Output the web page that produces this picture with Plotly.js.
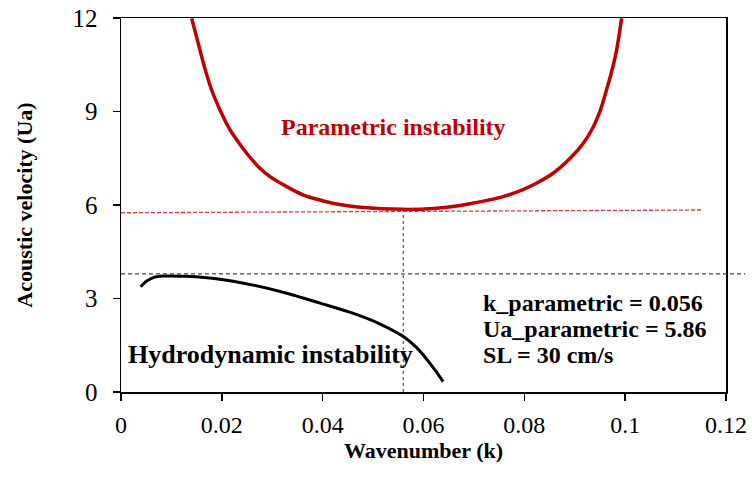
<!DOCTYPE html>
<html>
<head>
<meta charset="utf-8">
<script src="https://cdn.plot.ly/plotly-3.0.1.min.js"></script>
<style>html,body{margin:0;padding:0;background:#fff;}#chart{width:752px;height:480px;}</style>
</head>
<body>
<div id="chart"></div>
<script>
// Parametric instability boundary (k, Ua)
const paramK  = [0.01402, 0.01567, 0.01653, 0.01798, 0.01964, 0.02149, 0.02294, 0.02493, 0.02724, 0.02955, 0.03286, 0.03616, 0.03947, 0.04278, 0.04740, 0.05600, 0.06200, 0.06660, 0.06920, 0.07580, 0.07950, 0.08240, 0.08570, 0.08910, 0.09170, 0.09370, 0.09510, 0.09630, 0.09740, 0.09830, 0.09930];
const paramUa = [11.99, 10.97, 10.44, 9.69, 9.05, 8.45, 8.09, 7.66, 7.23, 6.91, 6.59, 6.32, 6.16, 6.03, 5.93, 5.86, 5.89, 5.97, 6.04, 6.27, 6.48, 6.70, 7.02, 7.50, 7.98, 8.51, 9.05, 9.69, 10.33, 10.97, 11.99];
// Hydrodynamic instability boundary
const hydroK  = [0.0039, 0.0045, 0.0051, 0.0064, 0.0084, 0.0130, 0.0196, 0.0262, 0.0329, 0.0395, 0.0461, 0.0514, 0.0560, 0.0586, 0.0606, 0.0623, 0.0639];
const hydroUa = [3.38, 3.48, 3.56, 3.67, 3.72, 3.71, 3.62, 3.43, 3.17, 2.85, 2.52, 2.18, 1.78, 1.43, 1.06, 0.70, 0.33];
// Reference lines
const redRefK  = [0.0, 0.1152];
const redRefUa = [5.75, 5.84];
const blackRefUa = [3.79];
const kParam = [0.056];
const uaParam = [5.86];
const infoLines = ['k_parametric = 0.056', 'Ua_parametric = 5.86', 'SL = 30 cm/s'];
const infoUa = [2.86, 2.03, 1.20];
// Tick labels
const xTicks = [0, 0.02, 0.04, 0.06, 0.08, 0.1, 0.12];
const xTickText = ['0', '0.02', '0.04', '0.06', '0.08', '0.1', '0.12'];
const yTicks = [0, 3, 6, 9, 12];

const serif = 'Liberation Serif, Times New Roman, serif';

const traces = [
  {x: redRefK, y: redRefUa, mode: 'lines', line: {color: '#e0393e', width: 1.3, dash: '4px,2px'}, hoverinfo: 'skip'},
  {x: [kParam[0], kParam[0]], y: [0, uaParam[0]], mode: 'lines', line: {color: '#666', width: 1.3, dash: 'dot'}, hoverinfo: 'skip'},
  {x: paramK, y: paramUa, mode: 'lines', line: {color: '#c00000', width: 3.5, shape: 'spline', smoothing: 0.8}},
  {x: hydroK, y: hydroUa, mode: 'lines', line: {color: '#000', width: 3, shape: 'spline', smoothing: 0.8}}
];

const annotations = [
  {x: 0.054, y: 8.5, xref: 'x', yref: 'y', text: 'Parametric instability', showarrow: false,
   font: {family: serif, size: 24, color: '#c00000', weight: 'bold'}},
  {x: 0.0296, y: 1.19, xref: 'x', yref: 'y', text: 'Hydrodynamic instability', showarrow: false,
   font: {family: serif, size: 26, color: '#000', weight: 'bold'}}
];
infoLines.forEach((t, i) => annotations.push({
  x: 0.0715, y: infoUa[i], xref: 'x', yref: 'y', xanchor: 'left', showarrow: false, text: t,
  font: {family: serif, size: 24, color: '#000', weight: 'bold'}
}));

const layout = {
  width: 752, height: 480,
  margin: {l: 121, r: 26, t: 18, b: 88},
  paper_bgcolor: '#fff', plot_bgcolor: '#fff',
  showlegend: false,
  font: {family: serif, color: '#000', size: 20},
  xaxis: {
    range: [0, 0.12], tickvals: xTicks, ticktext: xTickText,
    showgrid: false, zeroline: false,
    showline: true, linecolor: '#000', linewidth: 1.5, mirror: true,
    ticks: 'outside', ticklen: 7, tickwidth: 1.5, tickcolor: '#000', ticklabelstandoff: 4,
    tickfont: {family: serif, size: 24, color: '#000'},
    title: {text: 'Wavenumber (k)', font: {family: serif, size: 22, color: '#000', weight: 'bold'}, standoff: 4}
  },
  yaxis: {
    range: [0, 12], tickvals: yTicks,
    showgrid: false, zeroline: false,
    showline: true, linecolor: '#000', linewidth: 1.5, mirror: true,
    ticks: 'outside', ticklen: 7, tickwidth: 1.5, tickcolor: '#000', ticklabelstandoff: 10,
    tickfont: {family: serif, size: 25, color: '#000'},
    title: {text: 'Acoustic velocity (Ua)', font: {family: serif, size: 22, color: '#000', weight: 'bold'}, standoff: 34}
  },
  shapes: [
    {type: 'line', xref: 'paper', yref: 'y', x0: 0, x1: 1.032, y0: blackRefUa[0], y1: blackRefUa[0],
     line: {color: '#444', width: 1.3, dash: '4px,3px'}}
  ],
  annotations: annotations
};

Plotly.newPlot('chart', traces, layout, {staticPlot: true, displayModeBar: false});
</script>
</body>
</html>
